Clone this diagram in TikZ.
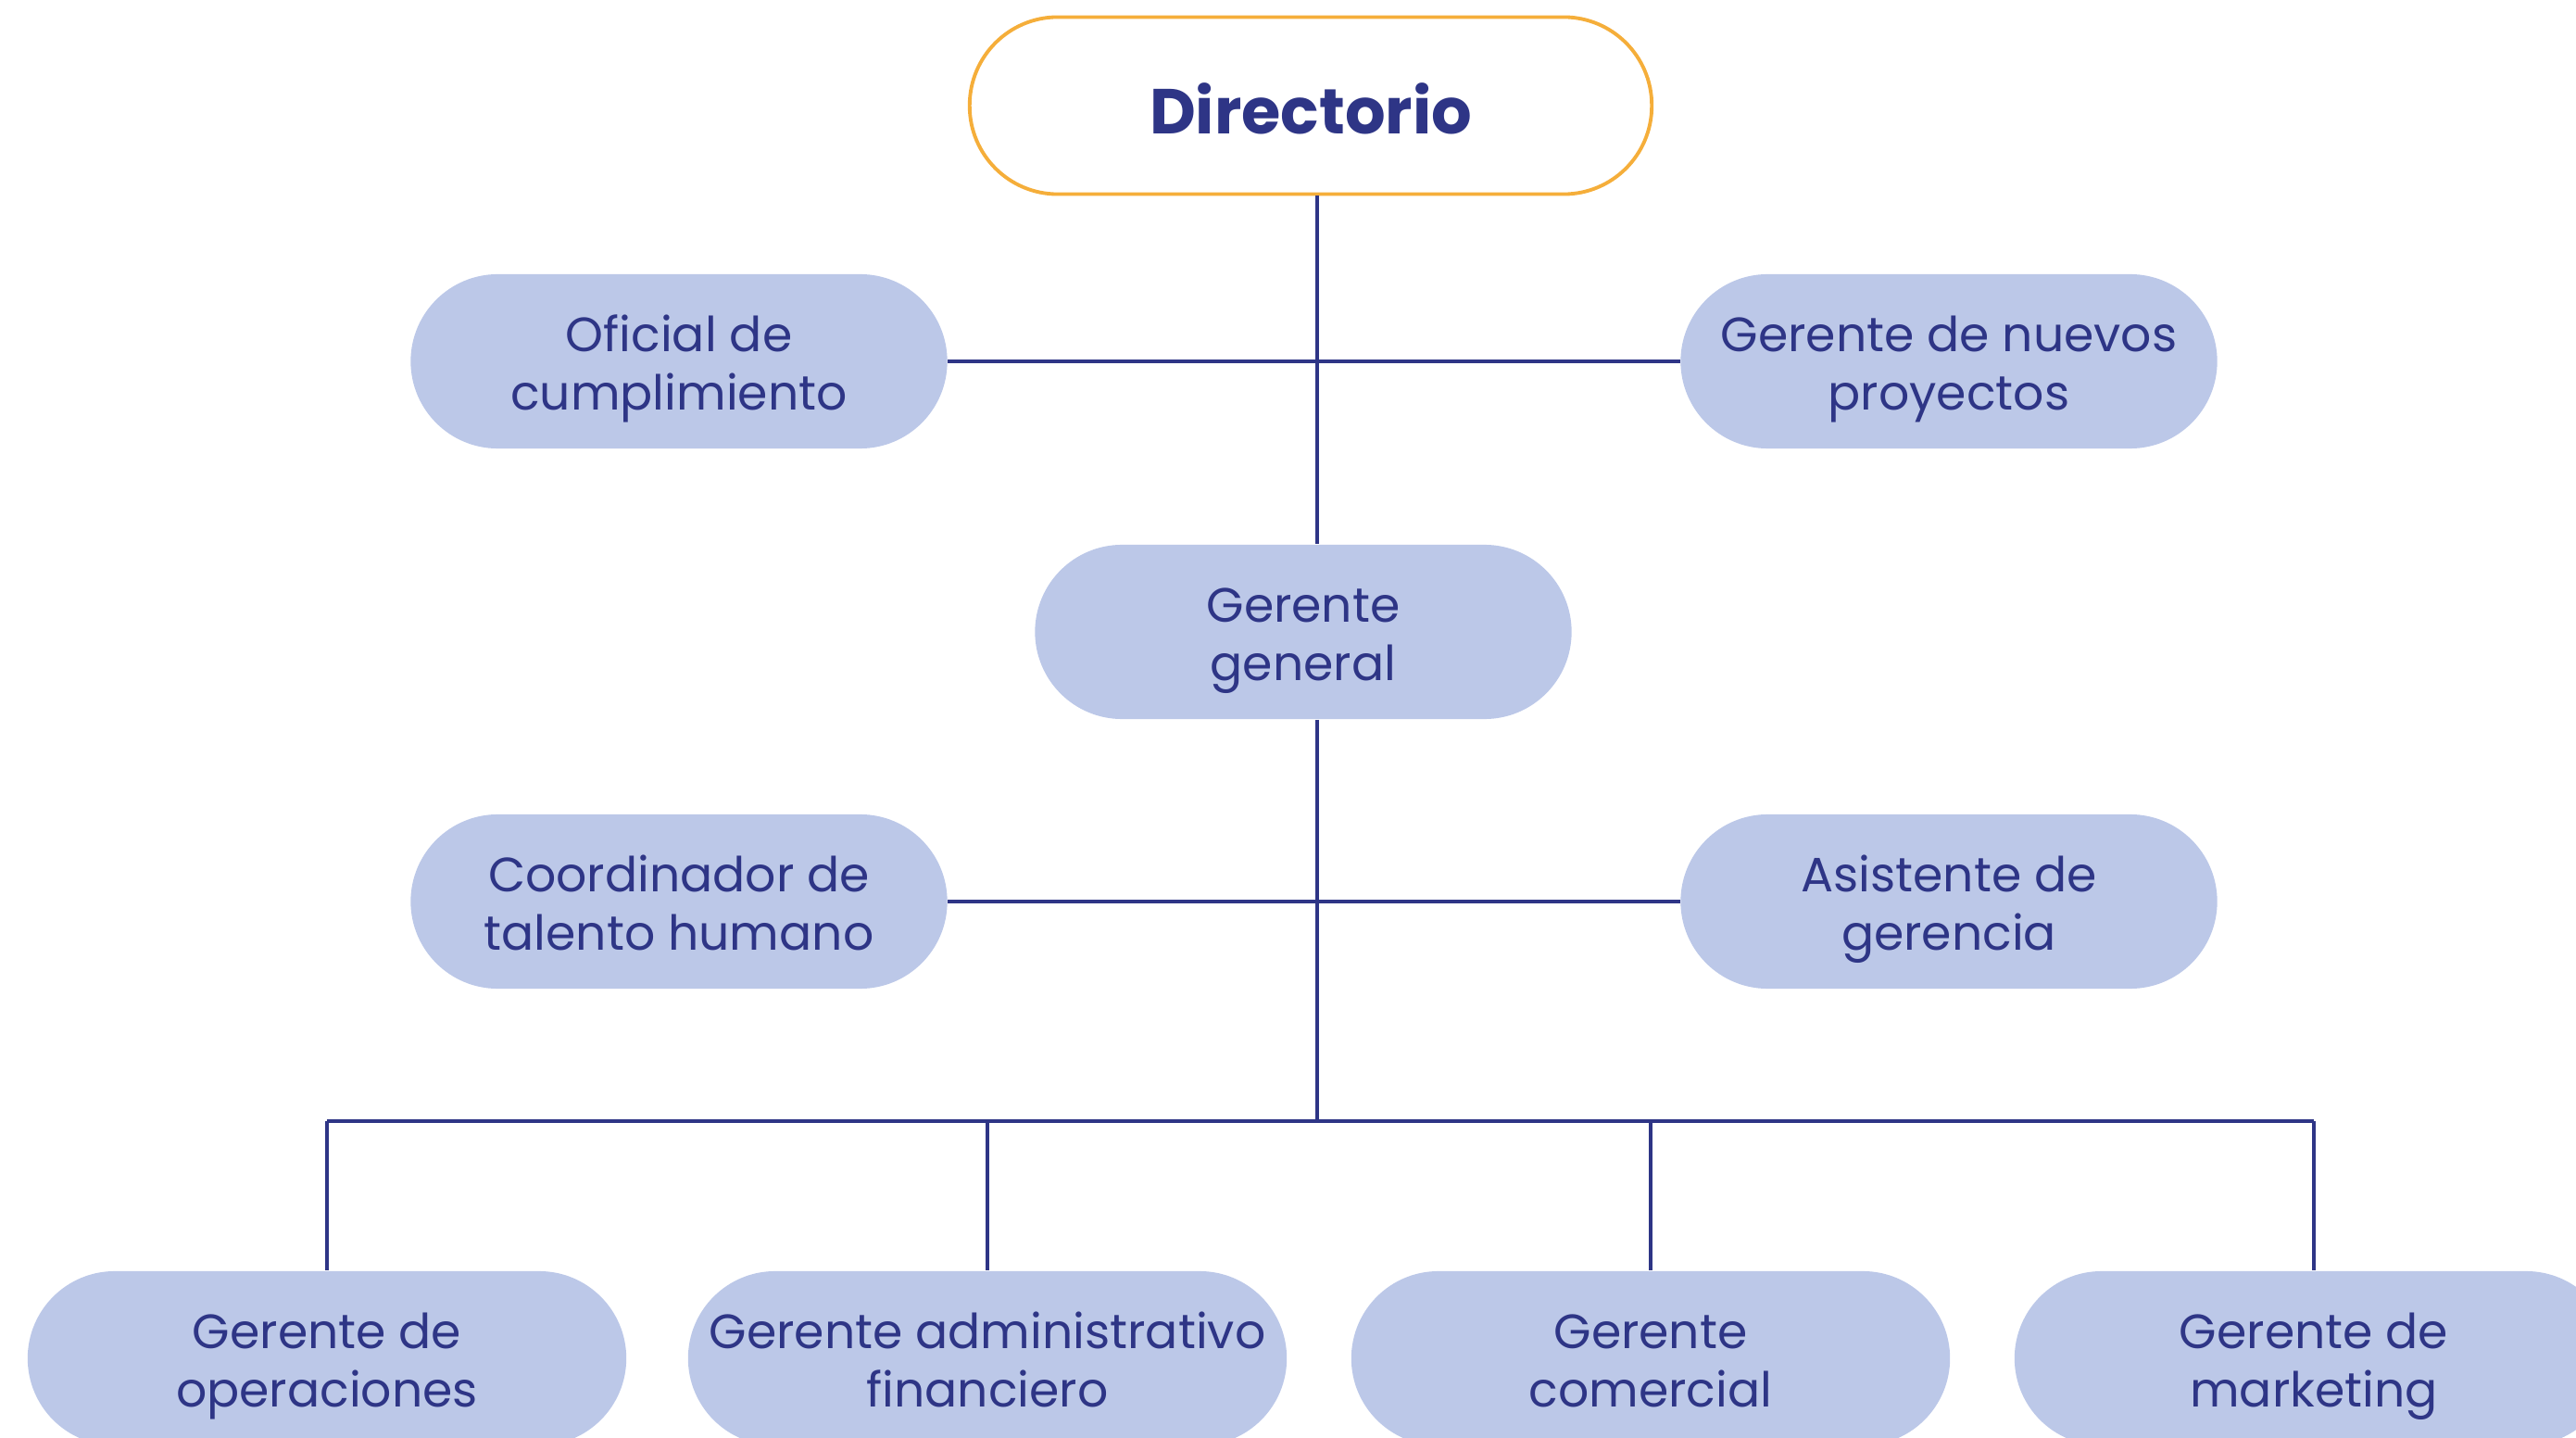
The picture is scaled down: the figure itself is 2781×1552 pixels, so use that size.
\documentclass[tikz,border=0pt]{standalone}
\usepackage{fontspec}
\setmainfont{Poppins}
\usepackage{tikz}
\usetikzlibrary{positioning}
\definecolor{navy}{HTML}{2E3586}
\definecolor{lav}{HTML}{BCC8E8}
\definecolor{gold}{HTML}{F5AE3A}
\tikzset{role/.style={fill=lav, text=navy, align=center, inner sep=0pt,
           minimum width=5.79cm, minimum height=1.88cm, rounded corners=0.94cm,
           font=\fontsize{14.8}{18}\selectfont,
           execute at begin node={\rule[-5pt]{0pt}{40pt}}},
         wide/.style={role, minimum width=6.46cm},
         board/.style={draw=gold, line width=1.1pt, fill=white, text=navy,
           minimum width=7.36cm, minimum height=1.91cm, rounded corners=0.95cm,
           font=\fontsize{19.5}{22}\selectfont\bfseries,
           execute at begin node={\rule{0pt}{17.5pt}}},
         link/.style={draw=navy, line width=1pt}}

\begin{document}
\begin{tikzpicture}[x=0.01cm, y=-0.01cm]
  \useasboundingbox (0,0) rectangle (2781,1552);
  \clip (0,0) rectangle (2781,1552);
  \coordinate (spine) at (1422,0);
  \coordinate (bus) at (0,1210);

  \node[board] (dir) at (1415,114) {Directorio};
  \node[role] (ofi) at (733,390) {Oficial de\\cumplimiento};
  \node[role] (nue) at (2104,390) {Gerente de nuevos\\proyectos};
  \node[role] (gg) at (1407,682) {Gerente\\general};
  \node[role] (coo) at (733,973) {Coordinador de\\talento humano};
  \node[role] (asi) at (2104,973) {Asistente de\\gerencia};
  \node[wide] (ope) at (353,1466) {Gerente de\\operaciones};
  \node[wide] (adm) at (1066,1466) {Gerente administrativo\\financiero};
  \node[wide] (com) at (1782,1466) {Gerente\\comercial};
  \node[wide] (mkt) at (2498,1466) {Gerente de\\marketing};

  \draw[link] (dir.south -| spine) -- (gg.north -| spine);
  \draw[link] (ofi.east) -- (nue.west);
  \draw[link] (gg.south -| spine) -- (bus -| spine);
  \draw[link] (coo.east) -- (asi.west);
  \draw[link] (ope.north |- bus) -- (mkt.north |- bus);
  \foreach \n in {ope,adm,com,mkt}
    \draw[link] (\n.north |- bus) -- (\n.north);
\end{tikzpicture}
\end{document}
